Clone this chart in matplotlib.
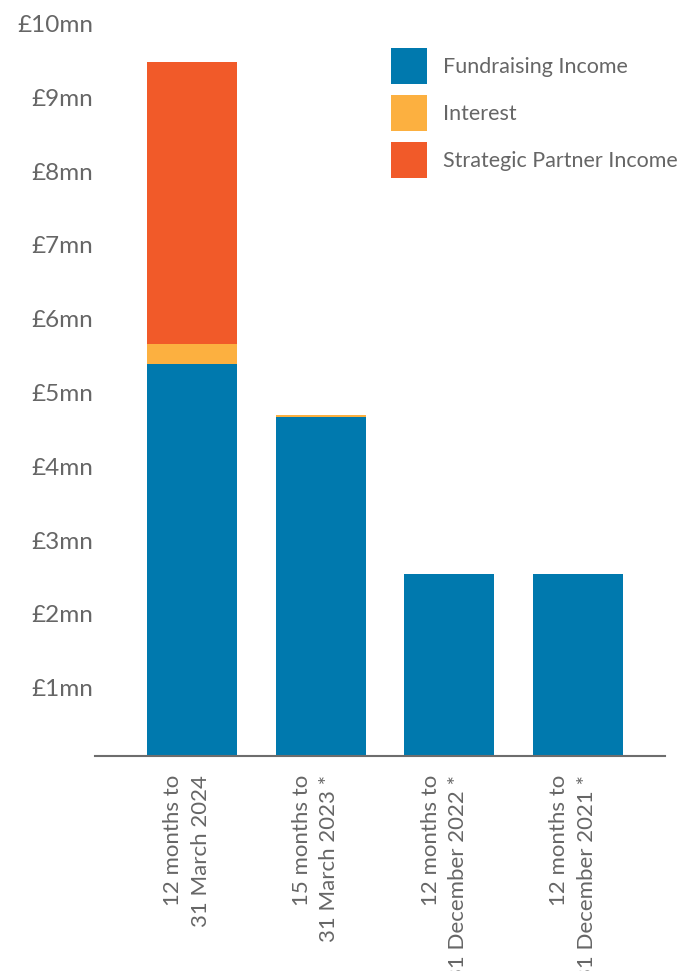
import matplotlib
matplotlib.use("Agg")
import matplotlib.pyplot as plt
import matplotlib.transforms as mtransforms
import numpy as np

# ---- data (GBP millions) ----
periods = ["12 months to\n31 March 2024",
           "15 months to\n31 March 2023 *",
           "12 months to\n31 December 2022 *",
           "12 months to\n31 December 2021 *"]
fundraising = [5.30, 4.59, 2.46, 2.46]
interest = [0.27, 0.025, 0.0, 0.0]
strategic = [3.83, 0.0, 0.0, 0.0]
yticks = [1, 2, 3, 4, 5, 6, 7, 8, 9, 10]
ytick_labels = ["£%dmn" % v for v in yticks]

c_fund = "#0079ae"
c_int = "#fcb040"
c_strat = "#f15a29"
grey = "#666666"

plt.rcParams["font.family"] = ["Lato", "DejaVu Sans"]

W, H = 696, 971
fig = plt.figure(figsize=(W / 100, H / 100), dpi=100)

# axes placed in pixel terms
ax_left, ax_right = 95, 665
ax_bottom = 755.5
ymax = 10.2
px_per_unit = 73.8
ax_top = ax_bottom - ymax * px_per_unit
ax = fig.add_axes([ax_left / W, 1 - ax_bottom / H,
                   (ax_right - ax_left) / W, (ax_bottom - ax_top) / H])

x = np.arange(len(periods))
fund = np.array(fundraising)
intr = np.array(interest)
strat = np.array(strategic)

ax.bar(x, fund, width=0.70, color=c_fund, label="Fundraising Income")
ax.bar(x, intr, width=0.70, bottom=fund, color=c_int, label="Interest")
ax.bar(x, strat, width=0.70, bottom=fund + intr, color=c_strat,
       label="Strategic Partner Income")

ax.set_xlim(-0.754, 3.676)
ax.set_ylim(0, ymax)

for s in ["top", "right", "left"]:
    ax.spines[s].set_visible(False)
ax.spines["bottom"].set_color("#6d6d6d")
ax.spines["bottom"].set_linewidth(1.5)

ax.set_yticks(yticks, ytick_labels)
ax.tick_params(axis="y", length=0, pad=1.5, labelsize=17.5, labelcolor=grey)
# shift y labels slightly down, as in the reference
offset = mtransforms.ScaledTranslation(0, -6 / 100, fig.dpi_scale_trans)
for lab in ax.get_yticklabels():
    lab.set_transform(lab.get_transform() + offset)

ax.set_xticks(x, periods)
ax.tick_params(axis="x", length=0, pad=14, labelsize=16, labelcolor=grey)
xoff = mtransforms.ScaledTranslation(-5 / 100, 0, fig.dpi_scale_trans)
for lab in ax.get_xticklabels():
    lab.set_rotation(90)
    lab.set_ha("center")
    lab.set_va("top")
    lab.set_multialignment("right")
    lab.set_linespacing(1.45)
    lab.set_transform(lab.get_transform() + xoff)

# legend: 36px squares, 47px row pitch
lfs_pt = 15.5
fs = lfs_pt * 100 / 72
hh = (36 / fs - 0.245) / 0.65
leg = ax.legend(loc="upper left",
                bbox_to_anchor=(391 / W, 1 - 48 / H),
                bbox_transform=fig.transFigure, frameon=False,
                fontsize=lfs_pt, labelcolor=grey, borderpad=0, borderaxespad=0,
                handlelength=36 / fs, handleheight=hh,
                labelspacing=11 / fs, handletextpad=16 / fs)

fig.savefig("out.png", dpi=100)
